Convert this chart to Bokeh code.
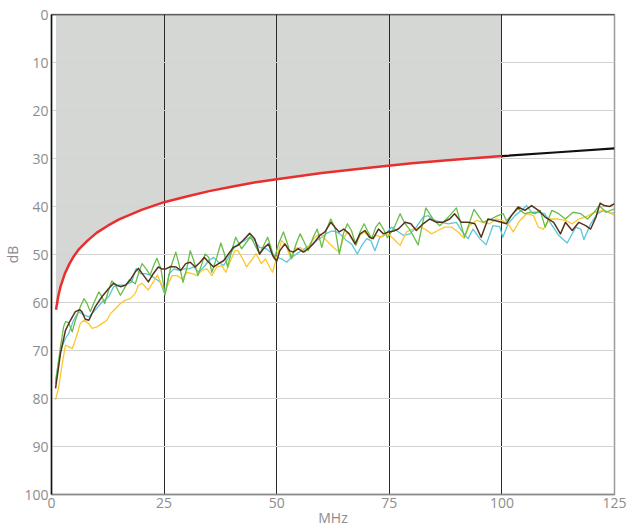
from bokeh.plotting import figure
from bokeh.models import Range1d, FixedTicker, Span
from bokeh.embed import file_html
from bokeh.resources import INLINE

# ---------------- data ----------------
limit_f = [1, 1.5, 2, 3, 4, 5, 6, 8, 10, 12.5, 15, 20, 25, 30, 35, 40, 45, 50, 60, 70, 80, 90, 100]
limit_db = [61.5, 58.7, 56.7, 53.9, 51.9, 50.3, 49.0, 47.1, 45.5, 44.0, 42.7, 40.7, 39.1, 37.9,
            36.8, 35.9, 35.0, 34.3, 33.0, 32.0, 31.0, 30.2, 29.5]
ext_f = [100, 112.5, 125]
ext_db = [29.5, 28.7, 27.9]

green_f = [0.9, 2.0, 2.7, 3.1, 3.8, 4.6, 5.3, 6.4, 7.2, 7.9, 8.6, 9.7, 10.5, 11.2, 11.8, 12.7, 13.4,
           14.2, 15.3, 16.4, 17.3, 18.6, 19.3, 20.1, 21.0, 21.9, 22.6, 23.4, 24.3, 25.2, 26.5, 27.6,
           28.3, 29.2, 30.1, 30.8, 31.6, 32.5, 33.4, 34.1, 34.9, 35.6, 36.7, 37.6, 38.4, 39.1, 40.0,
           40.9, 42.2, 44.2, 46.2, 48.0, 49.5, 50.4, 51.5, 52.4, 53.3, 54.3, 55.2, 56.1, 57.0, 58.1,
           59.0, 60.0, 61.1, 62.0, 62.9, 63.9, 64.8, 65.7, 66.6, 67.6, 68.5, 69.4, 70.3, 71.1, 72.0,
           72.8, 73.7, 74.6, 75.9, 76.6, 77.4, 78.3, 79.6, 81.4, 83.1, 84.7, 86.2, 88.1, 89.9, 91.7,
           93.8, 95.8, 97.6, 99.1, 100.3, 101.0, 102.1, 103.6, 105.1, 106.2, 107.4, 108.5, 109.6,
           111.1, 112.6, 114.1, 115.8, 117.5, 119.0, 120.5, 121.6, 123.1, 125.0]
green_db = [76.9, 69.2, 65.0, 64.0, 64.2, 66.1, 63.7, 60.9, 59.2, 60.2, 61.9, 59.5, 57.8, 58.8, 60.2,
            57.4, 55.5, 56.4, 58.5, 56.7, 55.2, 56.1, 54.0, 51.9, 53.0, 54.3, 52.5, 50.8, 53.0, 58.3,
            52.6, 49.5, 52.0, 55.8, 52.6, 49.2, 51.3, 54.4, 51.9, 49.9, 50.6, 53.7, 50.6, 47.6, 49.9,
            52.6, 49.2, 46.4, 48.8, 46.3, 49.9, 46.4, 50.9, 47.8, 45.3, 47.8, 50.9, 47.8, 45.7, 47.4,
            49.2, 46.4, 44.7, 48.5, 44.7, 42.6, 44.3, 49.9, 45.7, 43.6, 45.0, 48.1, 45.3, 43.6, 45.3,
            46.7, 44.3, 43.3, 44.7, 46.5, 44.7, 43.3, 41.5, 43.3, 44.9, 48.0, 40.3, 42.6, 44.0, 42.2,
            40.3, 46.4, 40.6, 43.3, 42.6, 41.9, 41.5, 43.0, 41.9, 40.5, 41.5, 41.2, 41.5, 40.8, 44.3,
            40.8, 41.5, 42.6, 41.2, 41.5, 42.6, 41.2, 39.8, 41.2, 40.5]

cyan_f = [0.9, 2.0, 3.1, 3.8, 4.9, 6.0, 7.2, 8.3, 9.7, 11.2, 12.7, 13.8, 14.9, 16.4, 17.8, 18.8, 19.7,
          20.8, 21.9, 23.0, 24.1, 25.2, 26.1, 27.2, 28.3, 29.4, 30.5, 31.6, 32.7, 33.8, 34.9, 36.0,
          37.1, 38.2, 39.3, 40.4, 41.4, 42.9, 44.0, 45.1, 46.2, 47.7, 49.1, 50.0, 51.1, 52.2, 53.3,
          54.4, 55.5, 56.7, 57.8, 58.9, 60.0, 61.1, 62.2, 63.3, 64.4, 65.5, 66.6, 67.9, 68.9, 70.0,
          70.9, 71.8, 72.9, 74.0, 75.5, 76.6, 78.1, 79.6, 81.0, 82.5, 83.6, 85.1, 86.6, 88.1, 89.9,
          91.2, 92.5, 93.6, 95.1, 96.5, 98.0, 99.5, 100.2, 101.4, 102.9, 104.4, 105.5, 106.6, 108.1,
          109.5, 110.7, 112.6, 114.5, 116.4, 117.5, 118.2, 119.7, 121.2, 122.7, 124.2, 125.0]
cyan_db = [76.2, 69.9, 67.5, 66.5, 63.7, 61.9, 62.6, 63.0, 61.6, 59.9, 58.8, 56.7, 56.4, 56.4, 55.7,
           52.9, 54.0, 54.0, 54.3, 55.0, 55.7, 58.4, 54.0, 53.0, 53.3, 53.0, 53.0, 52.6, 53.7, 52.6,
           51.3, 50.6, 51.6, 52.3, 50.6, 48.8, 47.8, 47.1, 46.4, 47.1, 48.5, 48.8, 49.9, 50.6, 50.9,
           51.6, 50.6, 49.9, 49.2, 48.5, 47.8, 47.1, 46.4, 45.6, 45.1, 45.3, 46.0, 47.1, 47.8, 49.9,
           48.1, 46.7, 47.1, 49.2, 46.4, 45.9, 44.3, 45.0, 46.0, 45.7, 44.3, 42.2, 41.9, 42.9, 43.3,
           43.6, 43.3, 45.3, 46.7, 44.7, 46.7, 48.0, 44.0, 44.2, 46.4, 43.6, 41.9, 40.8, 39.8, 41.2,
           41.2, 41.5, 43.3, 46.0, 47.6, 44.3, 44.7, 46.9, 43.6, 41.5, 40.8, 41.5, 41.2]

brown_f = [0.9, 2.0, 3.1, 4.2, 5.3, 6.3, 6.8, 7.5, 8.3, 9.7, 11.2, 12.7, 13.8, 14.5, 15.3, 16.4, 17.5,
           18.6, 19.3, 20.4, 21.5, 22.6, 23.7, 24.5, 25.4, 26.5, 27.6, 28.7, 29.8, 30.8, 31.9, 33.0,
           33.9, 34.9, 36.0, 37.1, 38.2, 39.3, 40.4, 41.4, 42.5, 44.0, 45.1, 46.2, 47.3, 48.2, 49.1,
           50.0, 50.7, 51.8, 52.8, 53.7, 54.8, 55.9, 57.0, 58.1, 59.6, 60.7, 62.0, 62.9, 63.9, 64.9,
           66.1, 67.4, 68.5, 69.6, 70.6, 71.4, 72.6, 73.7, 74.8, 76.0, 77.0, 78.5, 79.8, 81.0, 82.5,
           84.0, 85.5, 86.9, 88.4, 89.5, 91.0, 92.5, 94.0, 95.4, 96.9, 98.4, 99.9, 101.0, 102.1,
           103.6, 105.1, 106.6, 108.1, 109.6, 111.5, 113.0, 114.1, 115.6, 117.1, 118.6, 119.7, 120.9,
           121.8, 122.7, 123.9, 125.0]
brown_db = [77.9, 70.6, 65.8, 63.7, 61.9, 61.5, 62.0, 63.5, 63.7, 60.9, 58.8, 57.1, 56.0, 56.4, 56.7,
            56.4, 55.3, 53.6, 52.9, 54.3, 55.7, 54.0, 52.6, 53.0, 53.0, 52.5, 52.6, 53.3, 51.9, 51.6,
            52.6, 51.6, 50.6, 51.6, 52.6, 51.9, 51.3, 49.9, 48.5, 48.1, 47.1, 45.6, 46.7, 49.9, 48.5,
            47.8, 50.2, 51.4, 49.2, 47.8, 49.2, 49.5, 48.8, 49.5, 48.8, 47.8, 46.0, 45.3, 43.3, 44.3,
            45.3, 44.7, 45.7, 47.8, 45.7, 45.0, 46.4, 46.7, 44.7, 45.7, 45.3, 45.1, 44.7, 43.3, 43.6,
            45.0, 43.6, 42.6, 43.3, 43.3, 42.6, 41.5, 43.3, 43.3, 43.6, 46.4, 42.6, 42.9, 43.3, 43.6,
            41.9, 40.1, 40.8, 39.8, 40.8, 42.2, 43.3, 45.7, 43.3, 45.0, 43.3, 44.0, 44.7, 42.2, 39.3,
            39.8, 40.0, 39.4]

yellow_f = [0.9, 1.6, 2.4, 3.1, 3.8, 4.6, 5.3, 6.4, 7.2, 8.3, 9.0, 10.1, 11.2, 12.3, 13.1, 14.2, 15.3,
            16.4, 17.5, 18.6, 19.3, 20.1, 20.8, 21.5, 22.6, 23.5, 24.5, 25.2, 26.1, 26.8, 27.9, 29.0,
            30.1, 31.2, 32.3, 33.4, 34.5, 35.6, 36.7, 37.8, 38.7, 39.6, 40.7, 41.4, 42.5, 43.3, 44.4,
            45.4, 46.6, 47.5, 48.4, 49.1, 50.0, 51.1, 52.1, 53.0, 54.1, 55.2, 56.3, 57.4, 58.5, 59.6,
            60.7, 61.8, 62.9, 63.9, 64.8, 65.7, 66.6, 67.6, 68.5, 69.4, 70.3, 71.1, 72.2, 73.3, 74.4,
            75.1, 76.3, 77.4, 78.8, 80.3, 81.8, 82.9, 84.4, 85.8, 87.3, 88.8, 90.3, 91.6, 92.8, 94.3,
            95.8, 97.3, 98.7, 99.9, 101.4, 102.5, 104.0, 105.5, 107.0, 108.1, 109.2, 110.7, 112.2,
            114.1, 115.6, 117.1, 118.6, 120.5, 122.4, 123.9, 125.0]
yellow_db = [80.3, 77.6, 72.7, 68.9, 69.2, 69.6, 67.8, 64.4, 63.7, 64.4, 65.4, 65.1, 64.4, 63.7, 62.3,
             61.3, 60.2, 59.5, 59.2, 58.1, 56.4, 56.0, 56.7, 57.4, 55.7, 54.3, 56.4, 57.8, 55.8, 54.4,
             54.4, 55.1, 53.7, 54.0, 54.4, 53.3, 53.0, 54.4, 52.6, 52.3, 53.7, 51.6, 49.2, 49.2, 51.0,
             52.6, 51.2, 49.8, 51.9, 50.9, 52.6, 53.7, 50.6, 47.1, 48.1, 50.6, 48.8, 48.5, 49.5, 47.8,
             46.4, 45.7, 46.7, 47.8, 48.8, 49.5, 46.7, 45.3, 46.4, 47.8, 46.0, 45.3, 46.0, 46.7, 46.0,
             46.4, 45.7, 46.0, 47.1, 48.1, 45.3, 44.7, 44.3, 44.7, 45.7, 45.0, 44.3, 44.3, 45.3, 46.6,
             44.0, 42.9, 43.3, 43.6, 42.6, 42.9, 43.6, 45.3, 42.9, 41.5, 41.9, 44.3, 44.7, 42.6, 42.6,
             42.9, 43.6, 42.6, 42.2, 41.2, 40.8, 41.2, 41.9]

x_ticks = [0, 25, 50, 75, 100, 125]
y_ticks = [0, 10, 20, 30, 40, 50, 60, 70, 80, 90, 100]
x_title = "MHz"
y_title = "dB"

# ---------------- figure ----------------
FONT = "Open Sans"
LABEL_COLOR = "#8c8c8c"

p = figure(width=626, height=529, output_backend="svg", toolbar_location=None,
           x_range=Range1d(0, 125), y_range=Range1d(100, 0),
           min_border_left=51, min_border_right=12, min_border_top=14, min_border_bottom=34)
p.background_fill_color = "white"
p.border_fill_color = "white"
p.outline_line_color = "#9a9a9a"
p.outline_line_width = 1.5

# shaded region above the limit
p.varea(x=limit_f, y1=[0] * len(limit_f), y2=limit_db, fill_color="#d5d7d5", level="image")

# grids
p.ygrid.ticker = FixedTicker(ticks=[10, 20, 30, 40, 50, 60, 70, 80, 90])
p.ygrid.grid_line_color = "#d2d2d2"
p.ygrid.grid_line_width = 1
p.xgrid.ticker = FixedTicker(ticks=[25, 50, 75, 100])
p.xgrid.grid_line_color = "#2a2a2a"
p.xgrid.grid_line_width = 1

# axes
for ax in (p.xaxis[0], p.yaxis[0]):
    ax.major_tick_line_color = None
    ax.minor_tick_line_color = None
    ax.major_tick_out = 0
    ax.major_tick_in = 0
    ax.minor_tick_out = 0
    ax.minor_tick_in = 0
    ax.major_label_text_font = FONT
    ax.major_label_text_font_size = "14px"
    ax.major_label_text_color = LABEL_COLOR
    ax.axis_label_text_font = FONT
    ax.axis_label_text_font_size = "14px"
    ax.axis_label_text_font_style = "normal"
    ax.axis_label_text_color = LABEL_COLOR
p.xaxis.major_label_standoff = 3
p.yaxis.major_label_standoff = 3
p.xaxis.axis_label = x_title
p.yaxis.axis_label = y_title
p.xaxis.axis_label_standoff = -3
p.yaxis.axis_label_standoff = -1
p.xaxis.ticker = FixedTicker(ticks=x_ticks)
p.yaxis.ticker = FixedTicker(ticks=y_ticks)
p.xaxis.axis_line_color = "#8a8a8a"
p.xaxis.axis_line_width = 1.5
p.yaxis.axis_line_color = "#111111"
p.yaxis.axis_line_width = 1.5
p.add_layout(Span(location=0, dimension="width", line_color="#111111", line_width=1.5))

# measurement traces
p.line(cyan_f, cyan_db, line_color="#5cc6da", line_width=1.3, line_join="round")
p.line(yellow_f, yellow_db, line_color="#fcc72e", line_width=1.3, line_join="round")
p.line(green_f, green_db, line_color="#67bd47", line_width=1.3, line_join="round")
p.line(brown_f, brown_db, line_color="#56331c", line_width=1.5, line_join="round")

# limit line
p.line(limit_f, limit_db, line_color="#ea2e2e", line_width=2.5, line_join="round")
p.line(ext_f, ext_db, line_color="#111111", line_width=2.2)

open("out.html", "w").write(file_html(p, INLINE))
